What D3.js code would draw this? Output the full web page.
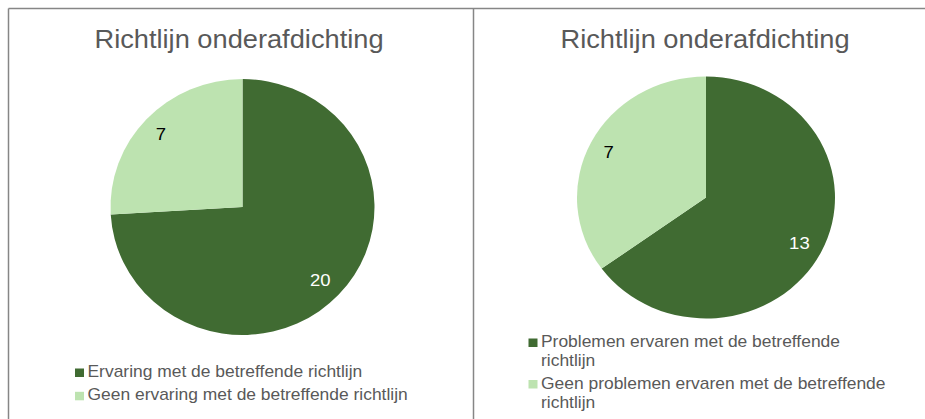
<!DOCTYPE html>
<html>
<head>
<meta charset="utf-8">
<script src="https://cdn.jsdelivr.net/npm/d3@7"></script>
<style>
  body { margin: 0; background: #fff; }
  svg { display: block; font-family: "Liberation Sans", Arial, sans-serif; }
</style>
</head>
<body>
<svg id="chart" width="925" height="419"></svg>
<script>
// data for the two pies
const chartTitles = ["Richtlijn onderafdichting", "Richtlijn onderafdichting"];
const leftCategories = ["Ervaring met de betreffende richtlijn", "Geen ervaring met de betreffende richtlijn"];
const leftValues = [20, 7];
const rightCategories = ["Problemen ervaren met de betreffende richtlijn", "Geen problemen ervaren met de betreffende richtlijn"];
const rightValues = [13, 7];
const sliceColors = ["#406b32", "#bde3b0"];
const labelColors = ["#ffffff", "#000000"];

const svg = d3.select("#chart");
const stretch = 1.09; // the original text is a bit wider than normal

// panel borders
svg.append("line").attr("x1", 8.5).attr("x2", 925).attr("y1", 8.5).attr("y2", 8.5)
  .attr("stroke", "#868686").attr("stroke-width", 1.5);
svg.append("line").attr("x1", 8.5).attr("x2", 8.5).attr("y1", 8.5).attr("y2", 419)
  .attr("stroke", "#868686").attr("stroke-width", 1.5);
svg.append("line").attr("x1", 473.5).attr("x2", 473.5).attr("y1", 8.5).attr("y2", 419)
  .attr("stroke", "#868686").attr("stroke-width", 1.5);

function wideText(parent, x, y, size) {
  return parent.append("g")
    .attr("transform", "translate(" + x + "," + y + ") scale(" + stretch + ",1)")
    .append("text")
      .attr("font-size", size);
}

function makePie(cfg) {
  const g = svg.append("g");

  wideText(g, cfg.titleX, 48, 25)
    .attr("text-anchor", "middle")
    .attr("fill", "#595959")
    .text(cfg.title);

  const pie = d3.pie().sort(null).value(d => d);
  const arcs = pie(cfg.values);
  const arc = d3.arc().innerRadius(0).outerRadius(cfg.ry);
  const labelArc = d3.arc().innerRadius(cfg.ry * 0.83).outerRadius(cfg.ry * 0.83);
  const sx = cfg.rx / cfg.ry;

  g.append("g")
    .attr("transform", "translate(" + cfg.cx + "," + cfg.cy + ") scale(" + sx + ",1)")
    .selectAll("path")
    .data(arcs)
    .enter().append("path")
      .attr("d", arc)
      .attr("fill", (d, i) => sliceColors[i]);

  arcs.forEach(function(d, i) {
    const c = labelArc.centroid(d);
    wideText(g, cfg.cx + c[0] * sx - 2, cfg.cy + c[1], 17)
      .attr("dy", "0.35em")
      .attr("text-anchor", "middle")
      .attr("fill", labelColors[i])
      .text(d.data);
  });

  // legend, wrapping long entries
  let y = cfg.legendY;
  cfg.categories.forEach(function(cat, i) {
    g.append("rect")
      .attr("x", cfg.legendX - 12.5).attr("y", y - 8.5)
      .attr("width", 9).attr("height", 8.5)
      .attr("fill", sliceColors[i]);
    const words = cat.split(" ");
    let line = [];
    let t = wideText(g, cfg.legendX, y, 16).attr("fill", "#595959");
    words.forEach(function(w) {
      line.push(w);
      t.text(line.join(" "));
      if (t.node().getComputedTextLength() * stretch > cfg.wrap && line.length > 1) {
        line.pop();
        t.text(line.join(" "));
        line = [w];
        y += cfg.lineGap;
        t = wideText(g, cfg.legendX, y, 16).attr("fill", "#595959").text(w);
      }
    });
    y += cfg.itemGap;
  });
}

makePie({
  title: chartTitles[0], values: leftValues, categories: leftCategories,
  cx: 242.5, cy: 207, rx: 132, ry: 128, titleX: 239,
  legendX: 87.5, legendY: 377, wrap: 400, lineGap: 19, itemGap: 23.3
});

makePie({
  title: chartTitles[1], values: rightValues, categories: rightCategories,
  cx: 706, cy: 197.5, rx: 129, ry: 121, titleX: 705,
  legendX: 541, legendY: 347, wrap: 350, lineGap: 19, itemGap: 22.5
});
</script>
</body>
</html>
